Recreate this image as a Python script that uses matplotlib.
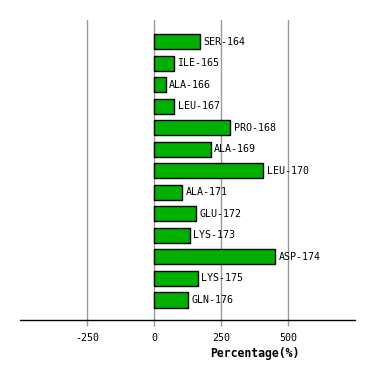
import matplotlib
matplotlib.use("Agg")
import matplotlib.pyplot as plt

# Residues and their percentage values
residues = ["SER-164", "ILE-165", "ALA-166", "LEU-167", "PRO-168", "ALA-169",
            "LEU-170", "ALA-171", "GLU-172", "LYS-173", "ASP-174", "LYS-175",
            "GLN-176"]
values = [170, 73, 43, 75, 283, 211, 406, 106, 155, 133, 451, 163, 125]
xticks = [-250, 0, 250, 500]

W, H = 374, 380
fig = plt.figure(figsize=(W / 100, H / 100), dpi=100)
ax = fig.add_axes([20 / W, 60 / H, 335 / W, 300 / H])

ypos = list(range(len(residues)))
ax.barh(ypos, values, height=0.7, color="#00b000", edgecolor="black",
        linewidth=1.0, zorder=3)

for y, v, name in zip(ypos, values, residues):
    ax.text(v + 14, y, name, va="center", ha="left", fontsize=7.2,
            family="DejaVu Sans Mono", zorder=4)

ax.set_xlim(-500, 750)
ax.set_ylim(12.93, -1.01)
ax.set_xticks(xticks)
ax.set_xticklabels([str(t) for t in xticks], family="DejaVu Sans Mono", fontsize=7.2)
ax.set_yticks([])
ax.grid(axis="x", color="#999999", linewidth=1.0, zorder=0)
ax.tick_params(axis="x", length=4.5, width=1.0, color="#999999", pad=5)

for s in ["top", "left", "right"]:
    ax.spines[s].set_visible(False)
ax.spines["bottom"].set_linewidth(1.0)

ax.set_xlabel("Percentage(%)", fontsize=8.3, fontweight="bold",
              family="DejaVu Sans Mono")
ax.xaxis.set_label_coords(0.70, -0.09)

fig.savefig("out.png", dpi=100)
